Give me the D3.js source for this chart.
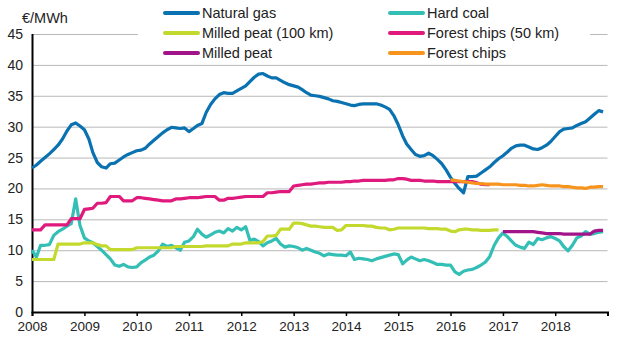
<!DOCTYPE html>
<meta charset="utf-8">
<script src="https://cdn.jsdelivr.net/npm/d3@7"></script>
<style>
body { margin: 0; background: #fff; }
text { font-family: "Liberation Sans", Arial, sans-serif; fill: #222; }
</style>
<body>
<script>

// monthly prices, €/MWh, first value = Jan of the start year
var natural_gas = [
  23.3, 23.8, 24.4, 25.0, 25.6, 26.3, 27.0, 28.0, 29.3, 30.3, 30.6, 30.1,
  29.5, 28.0, 25.8, 24.2, 23.5, 23.3, 24.0, 24.1, 24.6, 25.1, 25.5, 25.8,
  26.1, 26.2, 26.5, 27.2, 27.8, 28.4, 29.0, 29.5, 29.9, 29.8, 29.7, 29.8,
  29.2, 29.7, 30.2, 30.5, 32.3, 33.6, 34.5, 35.2, 35.5, 35.4, 35.4, 35.8,
  36.2, 36.6, 37.3, 38.0, 38.5, 38.6, 38.2, 37.9, 37.9, 37.5, 37.1, 36.8,
  36.6, 36.4, 36.0, 35.5, 35.1, 35.0, 34.9, 34.7, 34.5, 34.2, 34.1, 33.9,
  33.7, 33.5, 33.4, 33.6, 33.7, 33.7, 33.7, 33.7, 33.5, 33.2, 32.8, 31.8,
  30.3, 28.5, 27.2, 26.3, 25.5, 25.2, 25.3, 25.7, 25.3, 24.7, 24.0, 23.0,
  21.8, 20.8, 20.0, 19.3, 21.9, 21.9, 22.0, 22.5, 23.0, 23.5, 24.2, 24.8,
  25.3, 25.9, 26.5, 26.9, 27.0, 27.0, 26.7, 26.4, 26.3, 26.6, 27.0, 27.6,
  28.4, 29.2, 29.6, 29.7, 29.8, 30.2, 30.5, 30.8, 31.4, 32.0, 32.6, 32.4
]
var hard_coal = [
  10.0, 8.9, 10.8, 10.8, 10.9, 12.4, 13.0, 13.4, 13.9, 14.3, 18.3, 14.0,
  12.0, 11.5, 11.2, 10.6, 10.0, 9.3, 8.6, 7.6, 7.4, 7.7, 7.3, 7.2,
  7.3, 8.0, 8.4, 8.9, 9.2, 9.9, 11.0, 10.6, 10.8, 10.4, 10.0, 11.3,
  11.5, 12.2, 13.4, 12.6, 12.1, 12.5, 12.9, 13.1, 12.8, 13.5, 13.1, 13.7,
  13.3, 13.8, 11.6, 11.8, 11.4, 10.7, 11.2, 11.5, 11.9, 11.0, 10.5, 10.7,
  10.6, 10.4, 10.0, 10.3, 10.0, 9.7, 9.5, 9.1, 9.4, 9.3, 9.2, 9.2,
  9.1, 9.7, 8.5, 8.7, 8.6, 8.5, 8.3, 8.6, 8.8, 9.0, 9.2, 9.4,
  9.3, 7.8, 8.4, 8.9, 8.6, 8.3, 8.5, 8.3, 8.0, 7.7, 7.7, 7.6,
  7.6, 6.5, 6.1, 6.6, 6.8, 6.9, 7.2, 7.6, 8.1, 9.0, 10.8, 12.0,
  12.8, 12.2, 11.5, 10.8, 10.5, 10.3, 11.3, 10.9, 11.9, 11.7, 12.0, 12.2,
  11.9, 11.5, 10.6, 9.9, 10.8, 12.0, 12.3, 13.0, 12.6, 12.7, 12.9, 13.0
]
var milled_peat_100 = [
  8.5, 8.5, 8.5, 8.5, 8.5, 8.5, 11.0, 11.0, 11.0, 11.0, 11.0, 11.0,
  11.2, 11.2, 11.2, 10.9, 10.7, 10.7, 10.1, 10.1, 10.1, 10.1, 10.1, 10.1,
  10.4, 10.4, 10.4, 10.4, 10.4, 10.4, 10.4, 10.4, 10.4, 10.6, 10.6, 10.6,
  10.6, 10.6, 10.6, 10.6, 10.7, 10.7, 10.7, 10.7, 10.7, 10.7, 11.0, 11.0,
  11.0, 11.2, 11.2, 11.2, 11.2, 11.4, 12.3, 12.3, 12.4, 13.4, 13.4, 13.4,
  14.4, 14.4, 14.3, 14.1, 13.9, 13.9, 13.8, 13.7, 13.7, 13.7, 13.2, 13.3,
  14.0, 14.0, 14.0, 14.0, 14.0, 13.9, 13.9, 13.7, 13.6, 13.6, 13.3, 13.4,
  13.6, 13.6, 13.6, 13.6, 13.6, 13.6, 13.6, 13.5, 13.5, 13.5, 13.4, 13.4,
  13.1, 13.0, 13.3, 13.4, 13.4, 13.3, 13.3, 13.2, 13.2, 13.2, 13.3, 13.3
]
var forest_chips_50 = [
  13.3, 13.3, 13.3, 14.1, 14.1, 14.1, 14.1, 14.1, 14.1, 15.1, 15.1, 15.1,
  16.6, 16.7, 16.8, 17.6, 17.6, 17.7, 18.7, 18.7, 18.7, 18.0, 18.0, 18.0,
  18.5, 18.5, 18.4, 18.3, 18.2, 18.1, 18.0, 18.0, 18.0, 18.3, 18.3, 18.4,
  18.5, 18.5, 18.5, 18.6, 18.7, 18.7, 18.7, 18.1, 18.1, 18.4, 18.4, 18.5,
  18.6, 18.7, 18.7, 18.7, 18.7, 18.7, 19.3, 19.3, 19.4, 19.5, 19.5, 19.5,
  20.4, 20.5, 20.6, 20.7, 20.7, 20.8, 20.9, 20.9, 21.0, 21.0, 21.0, 21.0,
  21.1, 21.1, 21.2, 21.2, 21.3, 21.3, 21.3, 21.3, 21.3, 21.3, 21.4, 21.4,
  21.6, 21.6, 21.5, 21.3, 21.3, 21.3, 21.2, 21.2, 21.2, 21.1, 21.1, 21.1,
  21.1, 21.1, 21.1, 21.1, 21.1, 21.1, 20.9, 20.7, 20.6, 20.6
]
var milled_peat = [
  13.0, 13.0, 13.0, 13.0, 13.0, 13.0, 13.0, 13.0, 12.9, 12.8, 12.7, 12.7,
  12.7, 12.7, 12.6, 12.6, 12.6, 12.6, 12.6, 12.6, 12.6, 13.1, 13.2, 13.2
]
var forest_chips = [
  21.4, 21.3, 21.2, 21.1, 21.0, 20.9, 20.8, 20.8, 20.7, 20.7, 20.7, 20.7,
  20.6, 20.6, 20.6, 20.6, 20.5, 20.5, 20.4, 20.4, 20.5, 20.6, 20.5, 20.4,
  20.4, 20.4, 20.3, 20.3, 20.2, 20.1, 20.1, 20.0, 20.2, 20.2, 20.3, 20.3
]

var series = [
  {name: "Natural gas",           start: [2008, 0], values: natural_gas,      color: "#0a72b0"},
  {name: "Hard coal",             start: [2008, 0], values: hard_coal,        color: "#33bfb5"},
  {name: "Milled peat (100 km)",  start: [2008, 0], values: milled_peat_100,  color: "#c3d92e"},
  {name: "Forest chips (50 km)",  start: [2008, 0], values: forest_chips_50,  color: "#e0197d"},
  {name: "Milled peat",           start: [2017, 0], values: milled_peat,      color: "#a2148a"},
  {name: "Forest chips",          start: [2016, 0], values: forest_chips,     color: "#f7941d"}
]

var years = [2008, 2009, 2010, 2011, 2012, 2013, 2014, 2015, 2016, 2017, 2018]
var y_ticks = [0, 5, 10, 15, 20, 25, 30, 35, 40, 45]

var width = 630
var height = 362

var svg = d3.select("body").append("svg")
            .attr("width", width)
            .attr("height", height)

var x = d3.scaleTime()
          .domain([new Date(2008, 0, 1), new Date(2019, 0, 1)])
          .range([32, 607.5])
var y = d3.scaleLinear().domain([0, 45]).range([312, 34])

// grid
svg.append("g")
   .selectAll("line")
   .data(y_ticks.filter(function(d) { return d > 0 }))
   .enter().append("line")
   .attr("x1", x.range()[0])
   .attr("x2", x.range()[1])
   .attr("y1", function(d) { return y(d) + 0.5 })
   .attr("y2", function(d) { return y(d) + 0.5 })
   .style("stroke", "#b8b8b8")
   .style("stroke-width", 1)

// y labels
svg.append("g")
   .selectAll("text")
   .data(y_ticks)
   .enter().append("text")
   .attr("x", 23)
   .attr("y", function(d) { return y(d) })
   .attr("dy", "0.36em")
   .style("text-anchor", "end")
   .style("font-size", "14px")
   .text(function(d) { return d })

svg.append("text")
   .attr("x", 22)
   .attr("y", 23)
   .style("font-size", "14.5px")
   .text("€/MWh")

// x axis
var xaxis = svg.append("g")
   .attr("transform", "translate(0," + 312 + ")")
   .call(d3.axisBottom(x)
           .tickValues(years.concat([2019]).map(function(d) { return new Date(d, 0, 1) }))
           .tickSize(4)
           .tickFormat(function(d) { return d.getFullYear() < 2019 ? d.getFullYear() : "" }))
xaxis.select(".domain").style("stroke", "#000").style("stroke-width", 2)
xaxis.selectAll(".tick line").style("stroke", "#000").style("stroke-width", 1.5)
xaxis.selectAll(".tick text")
     .attr("y", 9)
     .style("font-size", "13.5px")
     .style("font-family", "Liberation Sans, Arial, sans-serif")
     .style("fill", "#222")

svg.append("line")
   .attr("x1", 32.5).attr("x2", 32.5)
   .attr("y1", y(45)).attr("y2", 313)
   .style("stroke", "#000")
   .style("stroke-width", 2)

// lines
var line = d3.line()
             .x(function(d) { return x(d.date) })
             .y(function(d) { return y(d.value) })

series.forEach(function(s) {
  var pts = s.values.map(function(v, i) {
    return {date: new Date(s.start[0], s.start[1] + i, 1), value: v}
  })
  svg.append("path")
     .attr("d", line(pts))
     .style("fill", "none")
     .style("stroke", s.color)
     .style("stroke-width", 3.2)
     .style("stroke-linejoin", "round")
})

// legend
var legend = svg.append("g")
legend.append("rect")
      .attr("x", 138).attr("y", 0)
      .attr("width", 452).attr("height", 63)
      .style("fill", "#fff")

var cols = [165, 390]
var rows = [13, 33, 53]
series.forEach(function(s, i) {
  var lx = cols[i % 2]
  var ly = rows[Math.floor(i / 2)]
  legend.append("line")
        .attr("x1", lx).attr("x2", lx + 33)
        .attr("y1", ly).attr("y2", ly)
        .style("stroke", s.color)
        .style("stroke-width", 4)
        .style("stroke-linecap", "round")
  legend.append("text")
        .attr("x", lx + 37)
        .attr("y", ly)
        .attr("dy", "0.36em")
        .style("font-size", "14.5px")
        .text(s.name)
})

</script>
</body>
